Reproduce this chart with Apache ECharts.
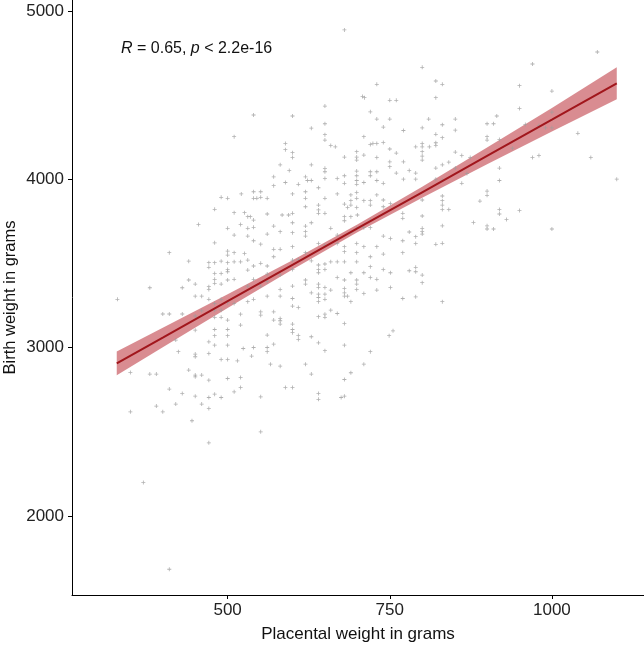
<!DOCTYPE html>
<html>
<head>
<meta charset="utf-8">
<script src="https://cdn.jsdelivr.net/npm/echarts@6/dist/echarts.min.js"></script>
<style>
  html, body { margin: 0; padding: 0; background: #fff; }
  #chart { width: 644px; height: 651px; }
</style>
</head>
<body>
<div id="chart"></div>
<script>
  // placental weight (g) for each baby
  var placentalWeight = [
    680,800,730,708,711,750,760,650,720,540,600,730,750,810,650,740,629,800,771,650,
    710,510,650,659,666,589,589,600,600,720,724,730,740,800,790,800,811,750,760,680,
    699,699,699,710,730,750,750,771,800,800,800,581,629,650,650,595,571,571,589,609,
    620,623,629,640,650,669,680,680,699,699,699,699,710,720,720,730,730,740,760,771,
    780,790,790,
    1070,970,821,831,821,950,1000,950,915,851,831,900,910,959,980,990,1000,1000,851,1040,
    821,831,900,900,919,821,821,939,851,861,970,980,1060,831,841,821,851,874,869,861,
    919,919,1100,821,831,
    900,900,889,831,831,831,831,841,919,919,950,930,879,831,900,900,910,1000,821,831,831,
    490,500,480,455,500,480,410,500,500,440,471,480,490,500,500,500,480,490,471,440,
    450,471,471,480,480,490,500,380,430,450,460,471,480,490,500,330,400,410,430,450,
    460,480,490,480,490,500,420,450,480,480,500,500,471,480,500,424,450,450,471,490,
    500,440,450,450,460,471,500,380,390,350,410,
    430,450,460,471,471,480,490,350,390,400,420,445,471,370,410,510,551,551,640,640,675,680,
    521,540,540,545,551,551,561,600,620,620,650,669,680,690,690,699,699,710,720,730,740,800,
    620,640,640,640,650,685,690,699,720,740,751,
    510,526,531,535,540,561,584,594,600,600,629,680,680,690,700,720,770,770,800,
    520,531,540,561,571,581,600,620,620,620,659,669,690,699,710,720,740,751,780,790,800,800,800,510,531,
    540,551,571,581,571,600,640,650,669,680,680,699,699,710,720,730,740,770,770,790,510,526,620,
    510,520,531,531,540,551,561,561,581,600,600,609,629,640,640,640,650,650,659,669,680,690,699,710,720,740,751,780,790,790,800,
    510,531,540,551,561,581,600,620,620,640,640,650,669,680,680,699,699,699,720,730,751,800,
    531,540,561,581,600,629,640,640,640,650,650,659,680,680,685,690,710,730,770,790,510,
    520,551,551,571,571,581,600,609,640,650,650,659,669,
    520,561,581,581,600,600,600,609,609,629,640,680,755,749,
    524,540,561,561,571,650,680,720,537,515,566,581,620,710,629,690,520,680,520,589,600
  ];
  // birth weight (g), same order
  var birthWeight = [
    4887,4665,4564,4492,4485,4469,4469,4435,4401,4382,4376,4358,4358,4358,4330,4310,4304,4306,4290,4265,
    4253,4253,4233,4201,4193,4213,4176,4158,4130,4207,4213,4213,4219,4213,4193,4193,4193,4180,4156,4132,
    4164,4132,4114,4144,4130,4104,4075,4104,4164,4138,4114,4086,4086,4065,4045,4053,4015,3962,3981,3970,
    4015,3993,3993,3950,4005,4005,4021,3976,4049,4021,3993,3970,3981,4045,4021,4045,3993,3976,4037,4001,
    4053,4037,4001,
    4756,4685,4584,4564,4485,4556,4524,4421,4376,4358,4324,4330,4330,4326,4320,4306,4306,4399,4292,4273,
    4267,4247,4253,4233,4237,4217,4201,4185,4162,4142,4130,4142,4130,4086,4102,4067,4067,4130,4035,3976,
    4067,3993,4001,4001,3995,
    3930,3905,3871,3901,3873,3847,3821,3821,3821,3794,3814,3762,3744,3724,3724,3705,3705,3705,3614,3620,3273,
    3893,3887,3822,3732,3709,3623,3564,3574,3550,3514,3505,3505,3514,3505,3465,3451,3441,3441,3477,3402,
    3378,3362,3346,3406,3382,3378,3402,3356,3356,3306,3306,3287,3263,3287,3267,3287,3200,3200,3200,3188,
    3219,3223,3223,3180,3180,3164,3045,3104,3108,3071,3108,3071,3035,3015,3015,2976,2962,2946,2966,2930,
    2930,2867,2837,2827,2837,2807,2817,2843,2843,2853,2754,
    2728,2712,2665,2704,2639,2724,2704,2619,2653,2619,2665,2566,2435,2199,1684,2738,2708,2500,2728,2693,2704,2712,
    3913,3926,3887,3887,3893,3926,3887,3913,3926,3887,3887,3913,3853,3907,3873,3921,3887,3873,3873,3907,3877,3877,
    3837,3847,3818,3798,3798,3833,3847,3833,3847,3837,3857,
    3802,3802,3778,3778,3758,3794,3788,3788,3798,3742,3742,3778,3754,3778,3788,3758,3798,3768,3782,
    3732,3709,3715,3675,3722,3689,3683,3722,3689,3663,3709,3669,3683,3709,3713,3713,3663,3649,3687,3659,3709,3689,3675,3669,3663,
    3635,3615,3584,3584,3540,3600,3619,3609,3619,3600,3570,3619,3564,3600,3540,3600,3556,3635,3564,3619,3564,3560,3564,
    3510,3510,3520,3461,3485,3501,3485,3437,3431,3465,3520,3524,3516,3491,3465,3445,3497,3465,3510,3510,3510,3445,3510,3445,3481,3465,3445,3457,3477,3451,3431,
    3406,3366,3406,3366,3392,3346,3366,3402,3378,3378,3358,3358,3417,3402,3352,3402,3378,3346,3417,3406,3358,3386,
    3273,3287,3306,3306,3292,3326,3318,3298,3273,3318,3287,3342,3326,3306,3306,3273,3322,3342,3292,3302,3263,
    3199,3213,3193,3213,3164,3174,3247,3239,3184,3199,3180,3223,3203,
    3134,3075,3160,3140,3140,3108,3089,3073,3049,3065,3029,3144,3100,3071,
    2995,3001,3001,2976,3021,2982,3015,2976,2950,2922,2902,2890,2902,2902,2843,2851,2823,2811,2764,2764,2764
  ];

  // linear fit and its confidence band
  var fitX    = [329, 400, 500, 600, 700, 800, 900, 1000, 1100];
  var fitY    = [2907, 3060, 3276, 3492, 3708, 3923, 4139, 4354, 4570];
  var fitLow  = [2836, 3002, 3235, 3465, 3685, 3890, 4089, 4284, 4475];
  var fitHigh = [2978, 3118, 3317, 3519, 3731, 3956, 4189, 4424, 4665];

  var xTicks = [500, 750, 1000];
  var yTicks = [2000, 3000, 4000, 5000];

  var fontName = 'Liberation Sans, Arial, sans-serif';

  var points = placentalWeight.map(function (x, i) { return [x, birthWeight[i]]; });
  var fitLine = fitX.map(function (x, i) { return [x, fitY[i]]; });
  var band = fitX.map(function (x, i) { return [x, fitLow[i], fitHigh[i]]; });

  var plain = function (v) { return String(v); };

  var chart = echarts.init(document.getElementById('chart'));
  chart.setOption({
    animation: false,
    backgroundColor: '#fff',
    title: {
      text: '{i|R} = 0.65, {i|p} < 2.2e-16',
      left: 116,
      top: 36,
      textStyle: {
        fontSize: 16, fontWeight: 'normal', color: '#111', fontFamily: fontName,
        rich: {
          i: { fontSize: 16, fontStyle: 'italic', color: '#111', fontFamily: fontName }
        }
      }
    },
    grid: { left: 72, right: 0, top: 0, bottom: 56, containLabel: false, outerBoundsMode: 'none' },
    xAxis: {
      type: 'value',
      min: 260,
      max: 1142,
      name: 'Placental weight in grams',
      nameLocation: 'middle',
      nameGap: 31,
      nameMoveOverlap: false,
      nameTextStyle: { fontSize: 17, color: '#111', fontFamily: fontName },
      axisLine: { lineStyle: { color: '#000', width: 1 } },
      axisTick: { length: 4, customValues: xTicks, lineStyle: { color: '#000' } },
      axisLabel: { customValues: xTicks, formatter: plain, fontSize: 17, color: '#222', margin: 7, fontFamily: fontName },
      splitLine: { show: false }
    },
    yAxis: {
      type: 'value',
      min: 1531,
      max: 5065,
      name: 'Birth weight in grams',
      nameLocation: 'middle',
      nameGap: 53,
      nameMoveOverlap: false,
      nameTextStyle: { fontSize: 16.5, color: '#111', fontFamily: fontName },
      axisLine: { show: true, lineStyle: { color: '#000', width: 1 } },
      axisTick: { show: true, length: 4, customValues: yTicks, lineStyle: { color: '#000' } },
      axisLabel: { customValues: yTicks, formatter: plain, fontSize: 17, color: '#222', margin: 8, fontFamily: fontName },
      splitLine: { show: false }
    },
    series: [
      {
        type: 'scatter',
        data: points,
        symbol: 'path://M2,0H3V2H5V3H3V5H2V3H0V2H2Z',
        symbolSize: 4,
        itemStyle: { color: '#9c9c9c' },
        silent: true
      },
      {
        type: 'custom',
        data: band,
        silent: true,
        renderItem: function (params, api) {
          if (params.dataIndex !== 0) return null;
          var pts = [];
          band.forEach(function (d) { pts.push(api.coord([d[0], d[2]])); });
          band.slice().reverse().forEach(function (d) { pts.push(api.coord([d[0], d[1]])); });
          return {
            type: 'polygon',
            shape: { points: pts },
            style: { fill: 'rgba(180,25,35,0.5)' }
          };
        }
      },
      {
        type: 'line',
        data: fitLine,
        showSymbol: false,
        lineStyle: { color: '#a1161c', width: 2 },
        silent: true
      }
    ]
  });
</script>
</body>
</html>
